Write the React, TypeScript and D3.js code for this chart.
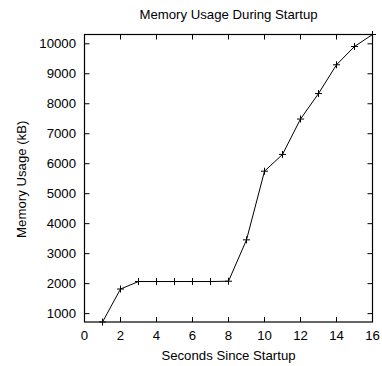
import React from "react";
import * as d3 from "d3";

const seconds = [1, 2, 3, 4, 5, 6, 7, 8, 9, 10, 11, 12, 13, 14, 15, 16];
const memoryKB = [720, 1820, 2070, 2070, 2070, 2070, 2070, 2080, 3460, 5750, 6310, 7490, 8340, 9300, 9910, 10310];
const xTicks = [0, 2, 4, 6, 8, 10, 12, 14, 16];
const yTicks = [1000, 2000, 3000, 4000, 5000, 6000, 7000, 8000, 9000, 10000];

const title = "Memory Usage During Startup";
const xLabel = "Seconds Since Startup";
const yLabel = "Memory Usage (kB)";

const SX = 1.1;

function T({ x, y, anchor = "middle", rot = 0, children, dy }: any) {
  return (
    <text
      transform={`translate(${x},${y}) rotate(${rot}) scale(${SX},1)`}
      textAnchor={anchor}
      dy={dy}
      fontSize={12}
    >
      {children}
    </text>
  );
}

export default function App() {
  const W = 382, H = 366;
  const left = 84.5, right = 372.5, top = 34.5, bottom = 322;
  const x = d3.scaleLinear().domain([0, 16]).range([left, right]);
  const y = d3.scaleLinear().domain([720, 10310]).range([bottom, top]);
  const line = d3.line<number>().x((_, i) => x(seconds[i])).y((d) => y(d));
  const font = "'Liberation Sans', Arial, sans-serif";
  const tl = 5;
  return (
    <svg width={W} height={H} style={{ position: "absolute", left: 0, top: 0 }} fontFamily={font}>
      <rect width={W} height={H} fill="#fff" />
      <T x={(left + right) / 2} y={19}>{title}</T>
      {yTicks.map((t) => (
        <g key={t}>
          <line x1={left} x2={left + tl} y1={y(t)} y2={y(t)} stroke="#000" />
          <line x1={right} x2={right - tl} y1={y(t)} y2={y(t)} stroke="#000" />
          <T x={left - 8.5} y={y(t) + 4} anchor="end">{t}</T>
        </g>
      ))}
      {xTicks.map((t) => (
        <g key={t}>
          <line x1={x(t)} x2={x(t)} y1={bottom} y2={bottom - tl} stroke="#000" />
          <line x1={x(t)} x2={x(t)} y1={top} y2={top + tl} stroke="#000" />
          <T x={x(t)} y={339.5}>{t}</T>
        </g>
      ))}
      <rect x={left} y={top} width={right - left} height={bottom - top} fill="none" stroke="#000" strokeWidth={1.2} />
      <path d={line(memoryKB) || ""} fill="none" stroke="#000" strokeWidth={1} />
      {memoryKB.map((v, i) => (
        <g key={i} stroke="#000" strokeWidth={1}>
          <line x1={x(seconds[i]) - 3.5} x2={x(seconds[i]) + 3.5} y1={y(v)} y2={y(v)} />
          <line x1={x(seconds[i])} x2={x(seconds[i])} y1={y(v) - 3.5} y2={y(v) + 3.5} />
        </g>
      ))}
      <T x={(left + right) / 2} y={359.5}>{xLabel}</T>
      <T x={26} y={(top + bottom) / 2 + 1} rot={-90}>{yLabel}</T>
    </svg>
  );
}
